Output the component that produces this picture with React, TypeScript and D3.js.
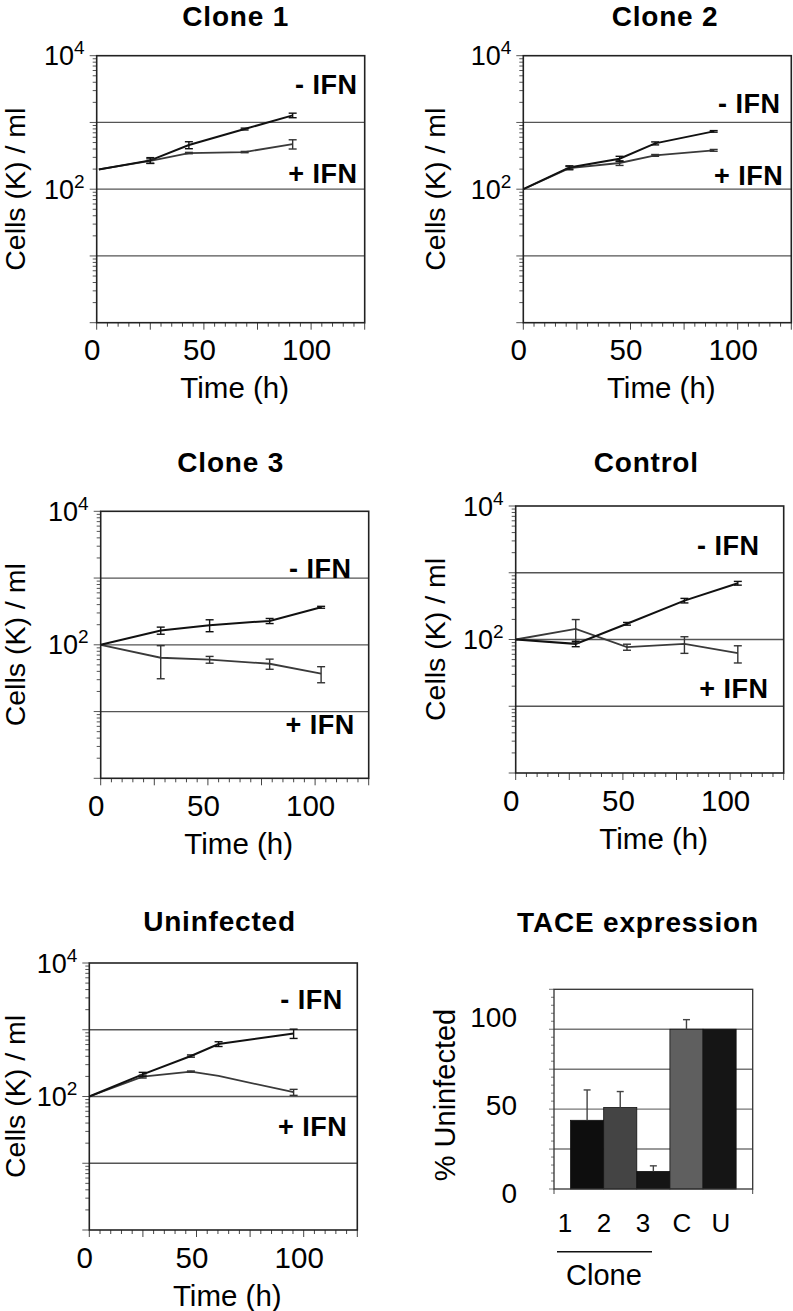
import React from "react";
import * as d3 from "d3";

const FONT = "'Liberation Sans', Arial, Helvetica, sans-serif";

// ---------- Growth curves (Cells (K)/ml vs time) ----------
// Clone 1
const clone1Time = [1, 25, 43, 69, 91.4];
const clone1Minus = [198, 270, 459, 797, 1277];
const clone1MinusErr = [0, 27, 55, 25, 100];
const clone1Plus = [198, 265, 348, 360, 475];
const clone1PlusErr = [0, 20, 8, 8, 75];

// Clone 2
const clone2Time = [0, 21.5, 44.9, 61.5, 88.8];
const clone2Minus = [100, 212, 286, 486, 735];
const clone2MinusErr = [0, 12, 25, 25, 20];
const clone2Plus = [100, 207, 247, 321, 382];
const clone2PlusErr = [0, 12, 20, 10, 12];

// Clone 3
const clone3Time = [0, 28, 50.8, 78.8, 102.8];
const clone3Minus = [100, 164, 197, 228, 365];
const clone3MinusErr = [0, 20, 40, 20, 12];
const clone3Plus = [100, 64, 60, 52, 37];
const clone3PlusErr = [0, 33, 7, 9, 10];

// Control
const controlTime = [0, 28, 51.9, 78.7, 103.6];
const controlMinus = [100, 86, 172, 383, 697];
const controlMinusErr = [0, 8, 8, 30, 45];
const controlPlus = [100, 144, 77, 86, 62.5];
const controlPlusErr = [0, 55, 8, 24, 18];

// Uninfected
const uninfTime = [0, 24.9, 47.4, 60.3, 95.3];
const uninfMinus = [100, 215, 404, 611, 881];
const uninfMinusErr = [0, 15, 15, 50, 140];
const uninfPlus = [100, 199, 236, 203, 116];
const uninfPlusErr = [0, 10, 5, 0, 12];

// Axis tick labels
const timeTickLabels = [0, 50, 100];
const logTickExponents = [2, 4];

// ---------- TACE expression bar chart ----------
const taceCategories = ["1", "2", "3", "C", "U"];
const taceValues = [43, 51, 11, 100, 100];
const taceErrors = [19, 10, 3.5, 6, 0];
const taceTickLabels = [0, 50, 100];
const taceGridValues = [25, 50, 75, 100];
const taceColors = ["#0e0e0e", "#444444", "#151515", "#5f5f5f", "#151515"];

// ---------- layout ----------
const panels = [
  {
    title: "Clone 1", time: clone1Time, minus: clone1Minus, minusErr: clone1MinusErr,
    plus: clone1Plus, plusErr: clone1PlusErr,
    left: 96.7, top: 55.7, titleX: 235.7, titleY: 25.5, ylabX: 25,
    minusLab: [121.6, 2630], plusLab: [121.6, 125],
  },
  {
    title: "Clone 2", time: clone2Time, minus: clone2Minus, minusErr: clone2MinusErr,
    plus: clone2Plus, plusErr: clone2PlusErr,
    left: 523.3, top: 55.7, titleX: 665, titleY: 25.5, ylabX: 445,
    minusLab: [120, 1400], plusLab: [121.2, 116],
  },
  {
    title: "Clone 3", time: clone3Time, minus: clone3Minus, minusErr: clone3MinusErr,
    plus: clone3Plus, plusErr: clone3PlusErr,
    left: 100.7, top: 511.3, titleX: 230.7, titleY: 471.7, ylabX: 25,
    minusLab: [117, 1000], plusLab: [118.5, 4.6],
  },
  {
    title: "Control", time: controlTime, minus: controlMinus, minusErr: controlMinusErr,
    plus: controlPlus, plusErr: controlPlusErr,
    left: 515.7, top: 506, titleX: 646.3, titleY: 471.7, ylabX: 445,
    minusLab: [113.7, 1862], plusLab: [117.9, 13.2],
  },
  {
    title: "Uninfected", time: uninfTime, minus: uninfMinus, minusErr: uninfMinusErr,
    plus: uninfPlus, plusErr: uninfPlusErr,
    left: 89.3, top: 963, titleX: 219.5, titleY: 931, ylabX: 25,
    minusLab: [118.2, 2042], plusLab: [120.3, 25.7],
  },
];

const PW = 268;
const PH = 267;

function isDecade(v: number) {
  const l = Math.log10(v);
  return Math.abs(l - Math.round(l)) < 1e-9;
}

function LinePanel({ p }: { p: any }) {
  const x = d3.scaleLinear().domain([0, 125]).range([p.left, p.left + PW]);
  const y = d3.scaleLog().domain([1, 1e4]).range([p.top + PH, p.top]);
  const line = d3
    .line<number>()
    .x((_, i) => x(p.time[i]))
    .y((d) => y(d));
  const yTicks = y.ticks();
  const xTicks = d3.range(0, 126, 5);
  const bottom = p.top + PH;
  const right = p.left + PW;
  const cx = (p.left + right) / 2;
  const cy = (p.top + bottom) / 2;

  const errBars = (vals: number[], errs: number[], color: string, key: string) =>
    vals.map((v, i) => {
      const e = errs[i];
      if (!e) return null;
      const xx = x(p.time[i]);
      const y1 = y(v + e);
      const y2 = y(Math.max(v - e, 1));
      return (
        <g key={key + i} stroke={color} strokeWidth={1.4}>
          <line x1={xx} x2={xx} y1={y1} y2={y2} />
          <line x1={xx - 4} x2={xx + 4} y1={y1} y2={y1} />
          <line x1={xx - 4} x2={xx + 4} y1={y2} y2={y2} />
        </g>
      );
    });

  return (
    <g>
      <text x={p.titleX} y={p.titleY} textAnchor="middle" fontSize={28} fontWeight="bold" letterSpacing={0.8}>
        {p.title}
      </text>
      {/* grid lines */}
      {[10, 100, 1000].map((g) => (
        <line key={"g" + g} x1={p.left} x2={right} y1={y(g)} y2={y(g)} stroke="#555" strokeWidth={1.3} />
      ))}
      {/* y ticks */}
      {yTicks.map((t, i) => (
        <line
          key={"yt" + i}
          x1={p.left - (isDecade(t) ? 7 : 4)}
          x2={p.left}
          y1={y(t)}
          y2={y(t)}
          stroke="#555"
          strokeWidth={1}
        />
      ))}
      {/* x ticks */}
      {xTicks.map((t) => (
        <line
          key={"xt" + t}
          x1={x(t)}
          x2={x(t)}
          y1={bottom}
          y2={bottom + (t % 25 === 0 ? 7 : 4)}
          stroke="#444"
          strokeWidth={1}
        />
      ))}
      {/* frame */}
      <rect x={p.left} y={p.top} width={PW} height={PH} fill="none" stroke="#222" strokeWidth={1.6} />
      {/* y tick labels */}
      {logTickExponents.map((e) => (
        <text key={"yl" + e} x={p.left - 12} y={y(Math.pow(10, e)) + 9.5} textAnchor="end" fontSize={27}>
          <tspan>10</tspan>
          <tspan dy={-11} fontSize={19}>
            {e}
          </tspan>
        </text>
      ))}
      {/* x tick labels */}
      {timeTickLabels.map((t) => (
        <text key={"xl" + t} x={x(t) - 4.5} y={bottom + 37.5} textAnchor="middle" fontSize={29.5}>
          {t}
        </text>
      ))}
      <text x={cx + 4} y={bottom + 75.5} textAnchor="middle" fontSize={29.5}>
        Time (h)
      </text>
      <text transform={`translate(${p.ylabX},${cy}) rotate(-90)`} textAnchor="middle" fontSize={28.5}>
        Cells (K) / ml
      </text>
      {/* series */}
      <path d={line(p.plus) || ""} fill="none" stroke="#3a3a3a" strokeWidth={1.8} />
      <path d={line(p.minus) || ""} fill="none" stroke="#111" strokeWidth={2} />
      {errBars(p.plus, p.plusErr, "#333", "pe")}
      {errBars(p.minus, p.minusErr, "#111", "me")}
      {/* labels */}
      <text x={x(p.minusLab[0])} y={y(p.minusLab[1])} textAnchor="end" fontSize={27} fontWeight="bold" letterSpacing={0.5}>
        - IFN
      </text>
      <text x={x(p.plusLab[0])} y={y(p.plusLab[1])} textAnchor="end" fontSize={27} fontWeight="bold" letterSpacing={0.5}>
        + IFN
      </text>
    </g>
  );
}

function BarPanel() {
  const left = 554;
  const right = 752.7;
  const top = 989.3;
  const bottom = 1189;
  const y = d3.scaleLinear().domain([0, 125]).range([bottom, top]);
  const x = d3.scaleBand<string>().domain(taceCategories).range([left, right]).paddingInner(0).paddingOuter(0.5);
  const yLabel = d3.scaleLinear().domain([0, 100]).range([bottom + 4.3, top + 27.4]);
  const xLabel = d3.scalePoint<string>().domain(taceCategories).range([left + 11, left + 167]);
  const minorTicks = d3.range(0, 126, 5);

  return (
    <g>
      <text x={638} y={931.7} textAnchor="middle" fontSize={28} fontWeight="bold" letterSpacing={0.8}>
        TACE expression
      </text>
      {taceGridValues.map((g) => (
        <line key={"g" + g} x1={left} x2={right} y1={y(g)} y2={y(g)} stroke="#777" strokeWidth={1.4} />
      ))}
      {minorTicks.map((t) => (
        <line
          key={"t" + t}
          x1={left - (t % 25 === 0 ? 5 : 3)}
          x2={left}
          y1={y(t)}
          y2={y(t)}
          stroke="#666"
          strokeWidth={0.9}
        />
      ))}
      <line x1={left} x2={left} y1={bottom} y2={bottom + 5} stroke="#444" strokeWidth={1} />
      <line x1={right} x2={right} y1={bottom} y2={bottom + 5} stroke="#444" strokeWidth={1} />
      {taceCategories.map((c, i) => (
        <rect
          key={"b" + c}
          x={x(c)}
          y={y(taceValues[i])}
          width={x.bandwidth()}
          height={bottom - y(taceValues[i])}
          fill={taceColors[i]}
          stroke="#111"
          strokeWidth={0.8}
        />
      ))}
      {taceCategories.map((c, i) => {
        const e = taceErrors[i];
        if (!e) return null;
        const cx = (x(c) as number) + x.bandwidth() / 2;
        const y1 = y(taceValues[i] + e);
        const y0 = y(taceValues[i]);
        return (
          <g key={"e" + c} stroke="#444" strokeWidth={1.4}>
            <line x1={cx} x2={cx} y1={y0} y2={y1} />
            <line x1={cx - 3.5} x2={cx + 3.5} y1={y1} y2={y1} />
          </g>
        );
      })}
      <rect x={left} y={top} width={right - left} height={bottom - top} fill="none" stroke="#333" strokeWidth={1.3} />
      {taceTickLabels.map((t) => (
        <text key={"yl" + t} x={517} y={yLabel(t)} dy="0.36em" textAnchor="end" fontSize={28}>
          {t}
        </text>
      ))}
      <text transform={`translate(455,1095) rotate(-90)`} textAnchor="middle" fontSize={29}>
        % Uninfected
      </text>
      {taceCategories.map((c) => (
        <text key={"xl" + c} x={xLabel(c)} y={1232.3} textAnchor="middle" fontSize={26}>
          {c}
        </text>
      ))}
      <line
        x1={(xLabel("1") as number) - 8}
        x2={(xLabel("3") as number) + 9}
        y1={1251.7}
        y2={1251.7}
        stroke="#111"
        strokeWidth={1.6}
      />
      <text x={((xLabel("1") as number) + (xLabel("3") as number)) / 2} y={1285} textAnchor="middle" fontSize={29}>
        Clone
      </text>
    </g>
  );
}

export default function App() {
  return (
    <svg
      width={793}
      height={1311}
      viewBox="0 0 793 1311"
      style={{ position: "absolute", left: 0, top: 0, background: "#fff" }}
      fontFamily={FONT}
      fill="#000"
    >
      <rect x={0} y={0} width={793} height={1311} fill="#fff" />
      {panels.map((p) => (
        <LinePanel key={p.title} p={p} />
      ))}
      <BarPanel />
    </svg>
  );
}
